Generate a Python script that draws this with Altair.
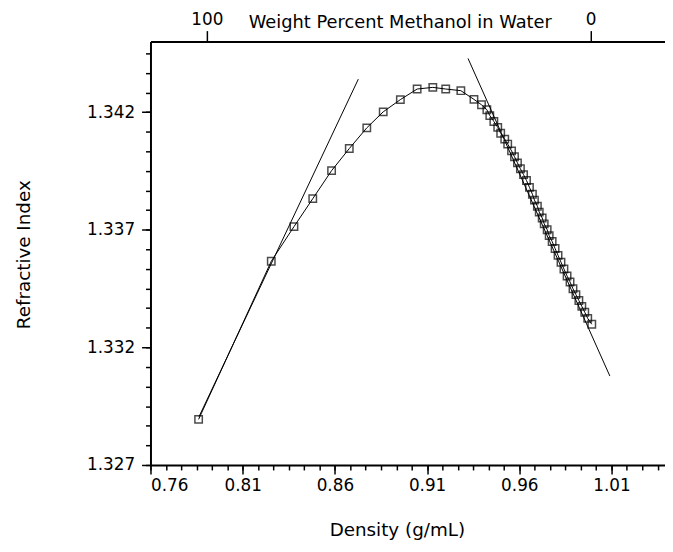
import altair as alt
import pandas as pd

# Measured data (density g/mL, refractive index)
density = [0.7861, 0.8255, 0.8378, 0.8480, 0.8582, 0.8678, 0.8773, 0.8862, 0.8955, 0.9046,
           0.9131, 0.9201, 0.9283, 0.9354, 0.9395, 0.9424, 0.9440, 0.9462, 0.9483, 0.9499,
           0.9521, 0.9537, 0.9558, 0.9574, 0.9590, 0.9606, 0.9623, 0.9639, 0.9655, 0.9671,
           0.9682, 0.9698, 0.9708, 0.9724, 0.9735, 0.9751, 0.9762, 0.9778, 0.9794, 0.9810,
           0.9826, 0.9842, 0.9859, 0.9875, 0.9891, 0.9907, 0.9923, 0.9939, 0.9955, 0.9971, 0.9993]
refr = [1.32894, 1.33566, 1.33713, 1.33832, 1.33951, 1.34045, 1.34133, 1.34201, 1.34253, 1.34298,
        1.34305, 1.34298, 1.34291, 1.34254, 1.34231, 1.34210, 1.34185, 1.34160, 1.34135, 1.34110,
        1.34085, 1.34064, 1.34035, 1.34010, 1.33984, 1.33959, 1.33934, 1.33909, 1.33880, 1.33851,
        1.33826, 1.33800, 1.33775, 1.33750, 1.33725, 1.33700, 1.33675, 1.33650, 1.33620, 1.33591,
        1.33562, 1.33533, 1.33503, 1.33478, 1.33449, 1.33424, 1.33399, 1.33374, 1.33349, 1.33323, 1.33298]

# Tangent lines
tangent_x = [0.7863, 0.8727, 0.9322, 1.0091]
tangent_y = [1.32905, 1.34340, 1.34428, 1.33078]
tangent_id = ["low", "low", "high", "high"]

# Axis ticks
x_major = [0.76, 0.81, 0.86, 0.91, 0.96, 1.01]
y_major = [1.327, 1.332, 1.337, 1.342]
x_minor = [round(0.76 + k * 0.05 / 6, 5) for k in range(0, 34)]
y_minor = [round(1.327 + k * 0.005 / 6, 6) for k in range(0, 22)]
top_pos = [0.7906, 0.9987]  # 100 % and 0 % methanol

x_domain = [0.76, 1.039]
y_domain = [1.327, 1.345]

FONT = "DejaVu Sans"

df = pd.DataFrame({"density": density, "refr": refr, "order": list(range(len(density)))})
tdf = pd.DataFrame({"x": tangent_x, "y": tangent_y, "g": tangent_id})

xs = alt.Scale(domain=x_domain, nice=False, zero=False)
ys = alt.Scale(domain=y_domain, nice=False, zero=False)

tangent = alt.Chart(tdf).mark_line(color="black", strokeWidth=1).encode(
    x=alt.X("x:Q", scale=xs, axis=alt.Axis(
        orient="bottom", values=x_major, format=".2f", tickSize=9, tickWidth=1.5,
        domainWidth=2, domainColor="black", tickColor="black", labelColor="black",
        labelFont=FONT, labelFontSize=17, labelPadding=4, grid=False,
        title="Density (g/mL)", titleFont=FONT, titleFontSize=18.5, titleFontWeight="normal",
        titleColor="black", titleX=249, titleY=65, titleAlign="center", titleBaseline="middle")),
    y=alt.Y("y:Q", scale=ys, axis=alt.Axis(
        orient="left", values=y_major, format=".3f", tickSize=9, tickWidth=1.5,
        domainWidth=2, domainColor="black", tickColor="black", labelColor="black",
        labelFont=FONT, labelFontSize=17, labelPadding=7, grid=False,
        title="Refractive Index", titleFont=FONT, titleFontSize=18.5, titleFontWeight="normal",
        titleColor="black", titleX=-128, titleY=215, titleAngle=270, titleAlign="center",
        titleBaseline="middle")),
    detail="g:N",
)

dline = alt.Chart(df).mark_line(color="black", strokeWidth=1).encode(
    x=alt.X("density:Q", scale=xs, axis=alt.Axis(
        orient="bottom", values=x_minor, labels=False, domain=False, tickSize=5,
        tickWidth=1.5, tickColor="black", grid=False, title=None)),
    y=alt.Y("refr:Q", scale=ys, axis=alt.Axis(
        orient="left", values=y_minor, labels=False, domain=False, tickSize=5,
        tickWidth=1.5, tickColor="black", grid=False, title=None)),
    order="order:Q",
)

pts = alt.Chart(df).mark_point(shape="square", size=56, filled=False, color="black",
                               strokeWidth=1.5).encode(
    x=alt.X("density:Q", scale=xs, axis=alt.Axis(
        orient="top", values=top_pos,
        labelExpr="datum.value < 0.9 ? '100' : '0'", tickSize=11, tickWidth=1.5,
        domainWidth=2, domainColor="black", tickColor="black", labelColor="black",
        labelFont=FONT, labelFontSize=17, labelPadding=2, grid=False,
        title="Weight Percent Methanol in Water", titleFont=FONT, titleFontSize=18,
        titleFontWeight="normal", titleColor="black", titleX=252, titleY=-19,
        titleAlign="center", titleBaseline="middle")),
    y=alt.Y("refr:Q", scale=ys, axis=None),
)

chart = alt.layer(tangent, dline, pts).resolve_axis(x="independent", y="independent").properties(
    width=520, height=428,
    autosize=alt.AutoSizeParams(type="none"),
    padding={"left": 144, "top": 31, "right": 0, "bottom": 77},
).configure_view(stroke=None)

chart.save("out.html", embed_options={"renderer": "svg", "actions": False})
